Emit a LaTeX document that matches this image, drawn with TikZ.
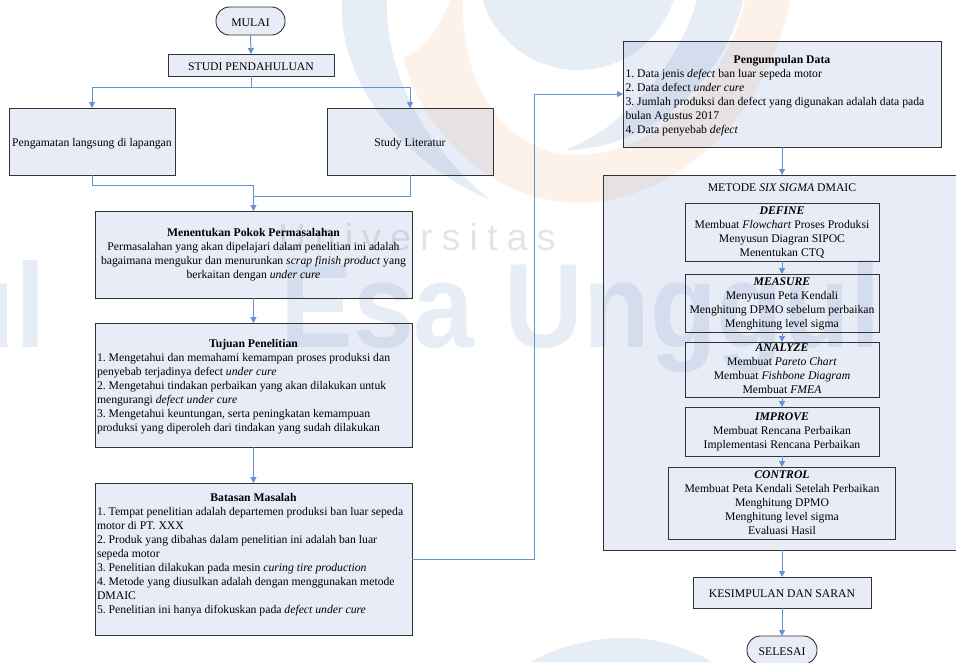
\documentclass[tikz,border=0pt]{standalone}
\usepackage{fontspec}
\setmainfont{Liberation Serif}
\newfontfamily\markfont{Liberation Sans}
\usetikzlibrary{arrows.meta}
\definecolor{boxfill}{RGB}{120,143,202}
\definecolor{flowblue}{HTML}{6490D4}
\definecolor{markblue}{HTML}{E7EDF5}
\definecolor{markgray}{HTML}{E0E5EC}
\definecolor{markorange}{HTML}{FDF2E9}
\newcommand{\boxtitle}[1]{\makebox[\hsize][c]{\textbf{#1}}\\}
\newcommand{\boxhead}{\rule{0pt}{11.8pt}}
\newcommand{\boxfoot}{\rule[-1.2pt]{0pt}{1.2pt}}
\tikzset{
	boxtext/.style={outer sep=0pt,inner xsep=2pt,inner ysep=0pt,font=\fontsize{11.7}{14}\selectfont\frenchspacing,execute at begin node=\boxhead,execute at end node=\boxfoot},
	box/.style={rectangle,draw=black!80,line width=0.9pt,fill=boxfill,fill opacity=0.17,text opacity=1,align=center,boxtext},
	listbox/.style={box,text width=313pt,align=flush left},
	stagebox/.style={rectangle,draw=black!80,line width=0.9pt,align=center,boxtext},
	terminal/.style={box,rounded corners=13.5pt},
	flow/.style={draw=flowblue,line width=1pt,-{Triangle[length=6pt,width=6pt]}}
}
\begin{document}
\begin{tikzpicture}[x=1pt,y=-1pt]
	\useasboundingbox (0,0) rectangle (956,662);
	\clip (0,0) rectangle (956,662);

	%watermark
	\fill[markblue] (578,-30) circle (100);
	\fill[markblue] (342,0) .. controls (338,90) and (410,165) .. (490,200) .. controls (430,150) and (385,80) .. (387,0) -- cycle;
	\fill[markblue] (697,0) .. controls (680,60) and (630,125) .. (565,150) .. controls (650,150) and (725,80) .. (743,0) -- cycle;
	\fill[markorange] (450,0) .. controls (440,25) and (425,50) .. (403,58) .. controls (425,140) and (500,203) .. (577,203)
		.. controls (680,203) and (770,110) .. (790,0) -- (745,0) .. controls (725,90) and (650,155) .. (577,155)
		.. controls (510,155) and (460,90) .. (463,0) -- cycle;
	\fill[markblue] (530,662) .. controls (590,630) and (660,630) .. (712,662) -- cycle;
	\node (markuniv) at (417,237) {\markfont\addfontfeatures{LetterSpace=24}\fontsize{37.7}{40}\selectfont\color{markgray}Universitas};
	\node[anchor=base west,inner sep=0pt,xscale=0.91] (markesa) at (280,347) {\markfont\bfseries\fontsize{120}{120}\selectfont\color{markblue}Esa Unggul};
	\node[anchor=base east,inner sep=0pt,xscale=0.91] (markleft) at (46,347) {\markfont\bfseries\fontsize{120}{120}\selectfont\color{markblue}ul};

	%left column
	\node[terminal,minimum width=69pt,minimum height=28pt] (mulai) at (250.5,21) {MULAI};
	\node[box,minimum width=166pt,minimum height=22pt] (studi) at (251,65) {STUDI PENDAHULUAN};
	\node[box,minimum width=166pt,minimum height=67pt] (lapangan) at (92,141.5) {Pengamatan langsung di lapangan};
	\node[box,minimum width=166pt,minimum height=67pt] (literatur) at (410,141.5) {Study Literatur};
	\node[box,minimum width=317pt,minimum height=87pt] (pokok) at (253.5,254.5) {\textbf{Menentukan Pokok Permasalahan}\\
		Permasalahan yang akan dipelajari dalam penelitian ini adalah\\
		bagaimana mengukur dan menurunkan \textit{scrap finish product} yang\\
		berkaitan dengan \textit{under cure}};
	\node[listbox,minimum width=317pt,minimum height=124pt] (tujuan) at (253.5,385) {\boxtitle{Tujuan Penelitian}
		1. Mengetahui dan memahami kemampan proses produksi dan\\
		penyebab terjadinya defect \textit{under cure}\\
		2. Mengetahui tindakan perbaikan yang akan dilakukan untuk\\
		mengurangi \textit{defect under cure}\\
		3. Mengetahui keuntungan, serta peningkatan kemampuan\\
		produksi yang diperoleh dari tindakan yang sudah dilakukan};
	\node[listbox,minimum width=317pt,minimum height=152pt] (batasan) at (253.5,559) {\boxtitle{Batasan Masalah}
		1. Tempat penelitian adalah departemen produksi ban luar sepeda\\
		motor di PT. XXX\\
		2. Produk yang dibahas dalam penelitian ini adalah ban luar\\
		sepeda motor\\
		3. Penelitian dilakukan pada mesin \textit{curing tire production}\\
		4. Metode yang diusulkan adalah dengan menggunakan metode\\
		DMAIC\\
		5. Penelitian ini hanya difokuskan pada \textit{defect under cure}\\
		\mbox{}};

	%right column
	\node[listbox,minimum width=318pt,minimum height=106pt] (data) at (782,94) {\boxtitle{Pengumpulan Data}
		1. Data jenis \textit{defect} ban luar sepeda motor\\
		2. Data defect \textit{under cure}\\
		3. Jumlah produksi dan defect yang digunakan adalah data pada\\
		bulan Agustus 2017\\
		4. Data penyebab \textit{defect}};
	\node[box,minimum width=358pt,minimum height=375pt] (metode) at (782,362.5) {};
	\node[stagebox,draw=none] (metodetitle) at (782,186) {METODE \textit{SIX SIGMA} DMAIC};
	\node[stagebox,minimum width=194pt,minimum height=58pt] (define) at (782,232) {\textbf{\textit{DEFINE}}\\
		Membuat \textit{Flowchart} Proses Produksi\\
		Menyusun Diagran SIPOC\\
		\smash{Menentukan CTQ}};
	\node[stagebox,minimum width=194pt,minimum height=58pt] (measure) at (782,303) {\textbf{\textit{MEASURE}}\\
		Menyusun Peta Kendali\\
		Menghitung DPMO sebelum perbaikan\\
		\smash{Menghitung level sigma}};
	\node[stagebox,minimum width=194pt,minimum height=55pt] (analyze) at (782,369.5) {\textbf{\textit{ANALYZE}}\\
		Membuat \textit{Pareto Chart}\\
		Membuat \textit{Fishbone Diagram}\\
		Membuat \textit{FMEA}};
	\node[stagebox,minimum width=194pt,minimum height=49pt] (improve) at (782,431.5) {\textbf{\textit{IMPROVE}}\\
		Membuat Rencana Perbaikan\\
		\smash{Implementasi Rencana Perbaikan}};
	\node[stagebox,minimum width=227pt,minimum height=72pt] (control) at (782,503) {\textbf{\textit{CONTROL}}\\
		Membuat Peta Kendali Setelah Perbaikan\\
		Menghitung DPMO\\
		Menghitung level sigma\\
		Evaluasi Hasil};
	\node[box,minimum width=178pt,minimum height=31pt] (saran) at (782,592.5) {KESIMPULAN DAN SARAN};
	\node[terminal,minimum width=70pt,minimum height=28pt] (selesai) at (782,650) {SELESAI};

	%connectors
	\coordinate (split) at (251,87);
	\coordinate (joinleft) at (253.5,185);
	\coordinate (joinright) at (253.5,196);
	\coordinate (turnlow) at (534,559);
	\coordinate (turnhigh) at (534,94);
	\draw[flow] (mulai) -- (studi);
	\draw[flow] (studi) -- (split) -| (lapangan);
	\draw[flow] (split) -| (literatur);
	\draw[flow] (lapangan) |- (joinleft) -- (pokok);
	\draw[draw=flowblue,line width=1pt] (literatur) |- (joinright);
	\draw[flow] (pokok) -- (tujuan);
	\draw[flow] (tujuan) -- (batasan);
	\draw[flow,line width=0.8pt] (batasan) -- (turnlow) -- (turnhigh) -- (data);
	\draw[flow] (data) -- (metode);
	\draw[flow] (define) -- (measure);
	\draw[flow] (measure) -- (analyze);
	\draw[flow] (analyze) -- (improve);
	\draw[flow] (improve) -- (control);
	\draw[flow] (metode) -- (saran);
	\draw[flow] (saran) -- (selesai);
\end{tikzpicture}
\end{document}
